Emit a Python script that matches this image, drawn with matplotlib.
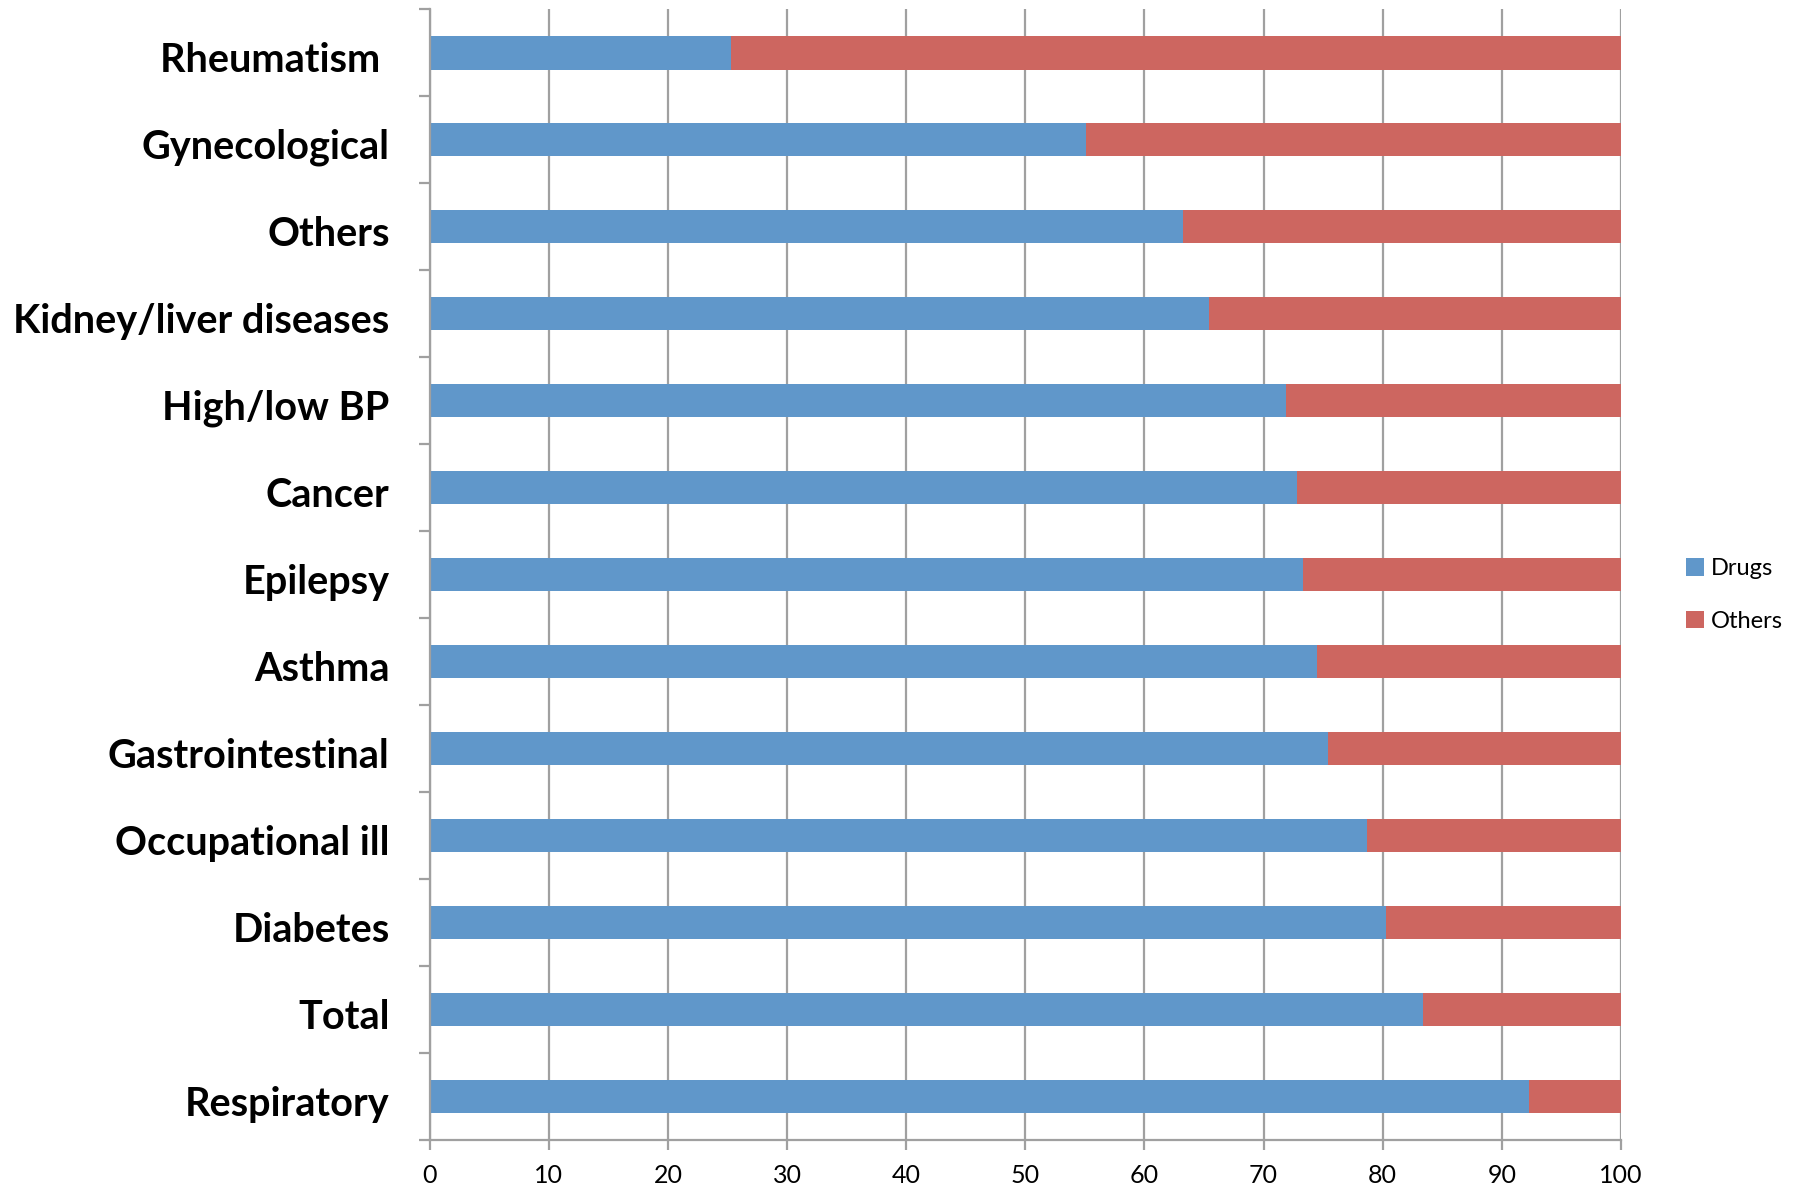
import numpy as np
import matplotlib
matplotlib.use('Agg')
import matplotlib.pyplot as plt
import matplotlib.transforms as mtransforms
from matplotlib.ticker import FixedLocator

# Data (top to bottom)
categories = ['Rheumatism ', 'Gynecological', 'Others', 'Kidney/liver diseases',
              'High/low BP', 'Cancer', 'Epilepsy', 'Asthma', 'Gastrointestinal',
              'Occupational ill', 'Diabetes', 'Total', 'Respiratory']
drugs = [25.3, 55.1, 63.2, 65.4, 71.9, 72.8, 73.3, 74.5, 75.4, 78.7, 80.3, 83.4, 92.3]
others = [100 - d for d in drugs]
x_ticks = list(range(0, 101, 10))

BLUE = '#6097CA'
RED = '#CD6660'
GRID = '#A0A0A0'

plt.rcParams['font.family'] = ['Lato', 'DejaVu Sans']

fig = plt.figure(figsize=(17.93, 11.89), dpi=100)
ax = fig.add_axes([0.2397, 0.0412, 0.904 - 0.2397, 0.9924 - 0.0412])

y = np.arange(len(categories))
b1 = ax.barh(y, drugs, height=0.39, color=BLUE, linewidth=0, label='Drugs')
b2 = ax.barh(y, others, left=drugs, height=0.39, color=RED, linewidth=0, label='Others')

ax.set_ylim(len(categories) - 0.5, -0.5)
ax.set_xlim(0, 100)

ax.set_axisbelow(True)
ax.xaxis.grid(True, color=GRID, linewidth=1.6)
ax.set_xticks(x_ticks)
ax.set_xticklabels([str(t) for t in x_ticks], fontsize=18)

ax.set_yticks(y)
ax.set_yticklabels(categories, fontsize=28.5, fontweight='bold')
ax.yaxis.set_minor_locator(FixedLocator(np.arange(-0.5, len(categories), 1.0)))
ax.tick_params(axis='y', which='major', length=0, pad=29)
ax.tick_params(axis='y', which='minor', length=8, width=1.6, color=GRID)
ax.tick_params(axis='x', which='major', length=7, width=1.6, color=GRID, pad=10)

# nudge category labels down a little
shift = mtransforms.ScaledTranslation(0, -3 / 72, fig.dpi_scale_trans)
for lbl in ax.get_yticklabels():
    lbl.set_transform(lbl.get_transform() + shift)

for side in ['top', 'right']:
    ax.spines[side].set_visible(False)
for side in ['left', 'bottom']:
    ax.spines[side].set_color(GRID)
    ax.spines[side].set_linewidth(1.6)

ax.legend(handles=[b1, b2], loc='center left', bbox_to_anchor=(0.9405, 0.4995),
          bbox_transform=fig.transFigure, frameon=False, fontsize=17,
          handlelength=0.75, handleheight=0.75, handletextpad=0.3,
          labelspacing=1.35, borderpad=0, borderaxespad=0)

fig.savefig('out.png', dpi=100)
